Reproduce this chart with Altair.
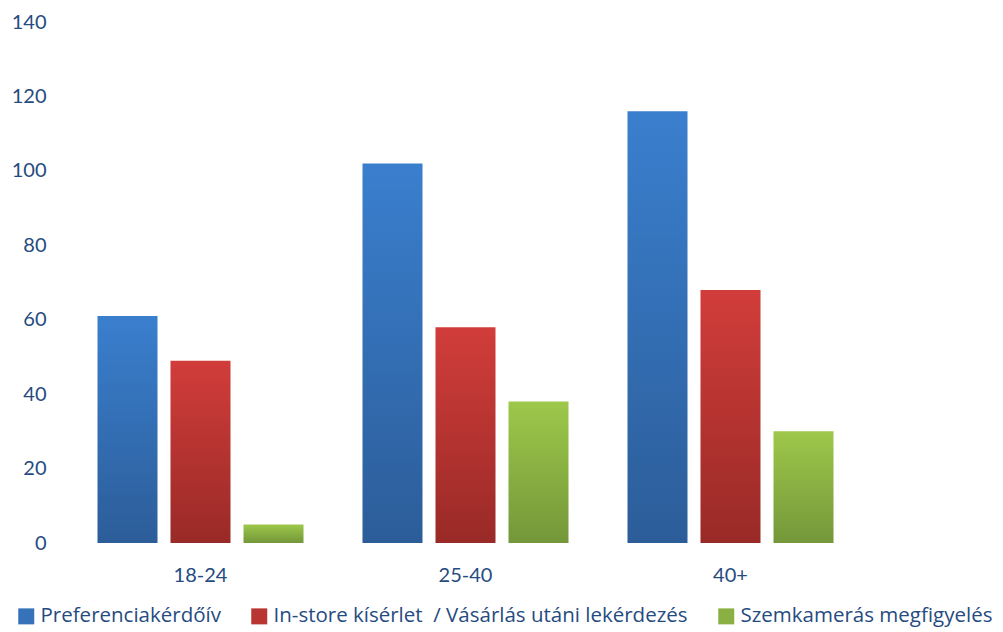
import altair as alt
import pandas as pd

categories = ["18-24", "25-40", "40+"]
series = ["Preferenciakérdőív",
          "In-store kísérlet \u00a0/ Vásárlás utáni lekérdezés",
          "Szemkamerás megfigyelés"]
pref = [61, 102, 116]
instore = [49, 58, 68]
szem = [5, 38, 30]

solid = ["#3672BA", "#B83532", "#8AB043"]
grads = [("#3A7FCE", "#2C5D99"), ("#D13D3A", "#992A27"), ("#9DC84A", "#74973A")]

rows = []
for s, vals in zip(series, [pref, instore, szem]):
    for c, v in zip(categories, vals):
        rows.append({"cat": c, "series": s, "value": v})
df = pd.DataFrame(rows)

FONT = "Lato"
LFONT = "Open Sans"
TXT = "#264B80"

x = alt.X("cat:N", sort=categories, title=None,
          scale=alt.Scale(paddingInner=0, paddingOuter=0),
          axis=alt.Axis(labelAngle=0, domain=False, ticks=False, labelPadding=22,
                        labelFontSize=20, labelFont=FONT, labelColor=TXT))
xo = alt.XOffset("series:N", sort=series,
                 scale=alt.Scale(domain=series, paddingInner=0.178, paddingOuter=0.404))
y = alt.Y("value:Q", title=None,
          scale=alt.Scale(domain=[0, 140], nice=False),
          axis=alt.Axis(values=list(range(0, 141, 20)), grid=False, domain=False, ticks=False,
                        labelPadding=22, labelFontSize=20, labelFont=FONT, labelColor=TXT))

base_layer = alt.Chart(df).mark_bar(opacity=0).encode(
    x=x, xOffset=xo, y=y,
    color=alt.Color("series:N", sort=series,
                    scale=alt.Scale(domain=series, range=solid),
                    legend=alt.Legend(title=None, orient="none", direction="horizontal",
                                      legendX=-52, legendY=584, symbolType="square",
                                      symbolSize=256, symbolOpacity=1, symbolStrokeWidth=0,
                                      labelFontSize=20.5, labelFont=LFONT, labelColor=TXT,
                                      labelLimit=600, columnPadding=28, labelOffset=4,
                                      columns=3))
)

layers = [base_layer]
for s, (top, bot) in zip(series, grads):
    layers.append(
        alt.Chart(df).transform_filter(alt.datum.series == s).mark_bar(
            color=alt.Gradient(gradient="linear", x1=0, x2=0, y1=0, y2=1,
                               stops=[alt.GradientStop(color=top, offset=0),
                                      alt.GradientStop(color=bot, offset=1)])
        ).encode(x=x, xOffset=xo, y=y)
    )

chart = alt.layer(*layers).properties(
    width=795, height=521,
    background="white",
    autosize=alt.AutoSizeParams(type="none"),
    padding={"left": 68, "top": 22, "right": 140, "bottom": 89},
).configure_view(strokeWidth=0, stroke="transparent")

chart.save("out.html", embed_options={"renderer": "svg", "actions": False})
